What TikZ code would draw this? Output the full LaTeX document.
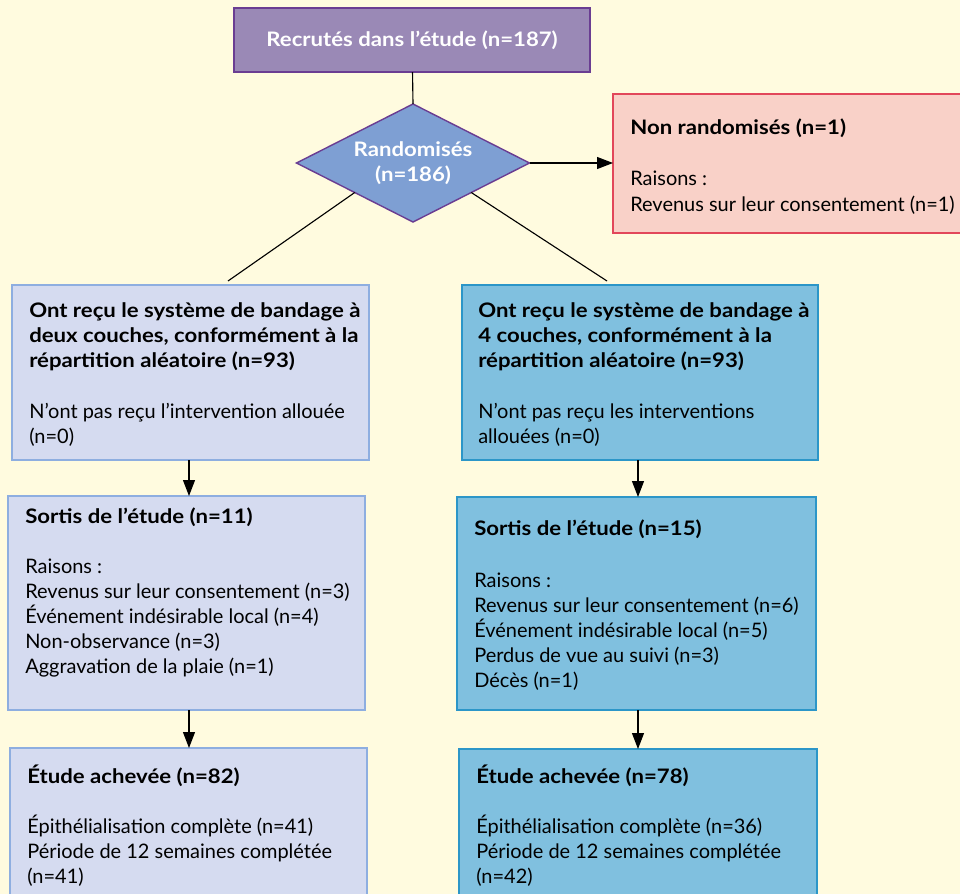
\documentclass[tikz,border=0pt]{standalone}
\usepackage{fontspec}
\setmainfont{Lato}[BoldFeatures={FakeStretch=1.11}]
\usetikzlibrary{arrows.meta, shapes.geometric, positioning}

\definecolor{paper}{HTML}{FFFBDF}
\definecolor{mauveFill}{HTML}{9A89B6}
\definecolor{mauveLine}{HTML}{6A3D92}
\definecolor{diamFill}{HTML}{7E9FD3}
\definecolor{roseFill}{HTML}{F9D1C8}
\definecolor{roseLine}{HTML}{E2475A}
\definecolor{paleFill}{HTML}{D5DBF0}
\definecolor{paleLine}{HTML}{8EAEE0}
\definecolor{skyFill}{HTML}{80C0DF}
\definecolor{skyLine}{HTML}{2C96C8}

\tikzset{
  box/.style = {rectangle, anchor=north west, outer sep=0pt, inner sep=0pt, line width=1pt},
  txt/.style = {anchor=north west, align=left, inner sep=0pt, text=black,
                font=\fontsize{14.2}{17.8}\selectfont},
  conn/.style = {line width=0.8pt, black},
  arr/.style = {conn, -{Triangle[length=0.4cm, width=0.3cm]}}
}

\begin{document}
\begin{tikzpicture}[x=0.025cm, y=-0.025cm]
		\useasboundingbox (0,0) rectangle (960,894);
		\fill[paper] (0,0) rectangle (960,894);

		% top of the chart
		\node[box, fill=mauveFill, draw=mauveLine, minimum width=8.9cm, minimum height=1.6cm] (recruited) at (234,8) {};
		\node[text=white, font=\bfseries\fontsize{14.2}{17.8}\selectfont] (recruitedTxt) at (recruited.center) {Recrutés dans l’étude (n=187)};
		\node[diamond, aspect=2, fill=diamFill, draw=mauveLine, line width=1pt, inner sep=0pt, outer sep=0pt,
		      minimum width=5.825cm, minimum height=2.95cm, align=center, text=white,
		      font=\bfseries\fontsize{14.2}{17.8}\selectfont] (randomised) at (413,163) {Randomisés\\(n=186)};
		\node[box, fill=roseFill, draw=roseLine, minimum width=8.8cm, minimum height=3.475cm] (notRand) at (613,94) {};
		\node[txt] (notRandTxt) at (630,119) {\textbf{Non randomisés (n=1)}\\[0.65cm]Raisons :\\Revenus sur leur consentement (n=1)};

		% the two arms
		\node[box, fill=paleFill, draw=paleLine, minimum width=8.925cm, minimum height=4.375cm] (enrolL) at (12,285) {};
		\node[box, fill=skyFill, draw=skyLine, minimum width=8.9cm, minimum height=4.375cm] (enrolR) at (462,285) {};
		\node[txt] (enrolLTxt) at (29,302) {\textbf{Ont reçu le système de bandage à}\\\textbf{deux couches, conformément à la}\\\textbf{répartition aléatoire (n=93)}\\[0.65cm]N’ont pas reçu l’intervention allouée\\(n=0)};
		\node[txt] (enrolRTxt) at (478,302) {\textbf{Ont reçu le système de bandage à}\\\textbf{4 couches, conformément à la}\\\textbf{répartition aléatoire (n=93)}\\[0.65cm]N’ont pas reçu les interventions\\allouées (n=0)};

		\node[box, fill=paleFill, draw=paleLine, minimum width=8.925cm, minimum height=5.35cm] (outL) at (8,496) {};
		\node[box, fill=skyFill, draw=skyLine, minimum width=8.975cm, minimum height=5.325cm] (outR) at (457,497) {};
		\node[txt] (outLTxt) at (25,508) {\textbf{Sortis de l’étude (n=11)}\\[0.6cm]Raisons :\\Revenus sur leur consentement (n=3)\\Événement indésirable local (n=4)\\Non-observance (n=3)\\Aggravation de la plaie (n=1)};
		\node[txt] (outRTxt) at (474,520) {\textbf{Sortis de l’étude (n=15)}\\[0.65cm]Raisons :\\Revenus sur leur consentement (n=6)\\Événement indésirable local (n=5)\\Perdus de vue au suivi (n=3)\\Décès (n=1)};

		\node[box, fill=paleFill, draw=paleLine, minimum width=8.925cm, minimum height=4cm] (doneL) at (10,748) {};
		\node[box, fill=skyFill, draw=skyLine, minimum width=8.95cm, minimum height=4cm] (doneR) at (459,749) {};
		\node[txt] (doneLTxt) at (27,765) {\textbf{Étude achevée (n=82)}\\[0.62cm]Épithélialisation complète (n=41)\\Période de 12 semaines complétée\\(n=41)};
		\node[txt] (doneRTxt) at (476,765) {\textbf{Étude achevée (n=78)}\\[0.62cm]Épithélialisation complète (n=36)\\Période de 12 semaines complétée\\(n=42)};

		% connectors
		\coordinate (splitL) at (228,281);
		\coordinate (splitR) at (607,281);
		\draw[conn] (recruited) -- (randomised.north);
		\draw[arr] (randomised.east) -- (randomised.east -| notRand.west);
		\draw[conn] (randomised.south west) -- (splitL);
		\draw[conn] (randomised.south east) -- (splitR);
		\draw[arr] (enrolL.south -| 189,0) -- (outL.north -| 189,0);
		\draw[arr] (outL.south -| 189,0) -- (doneL.north -| 189,0);
		\draw[arr] (enrolR.south -| 638,0) -- (outR.north -| 638,0);
		\draw[arr] (outR.south -| 638,0) -- (doneR.north -| 638,0);
\end{tikzpicture}
\end{document}
